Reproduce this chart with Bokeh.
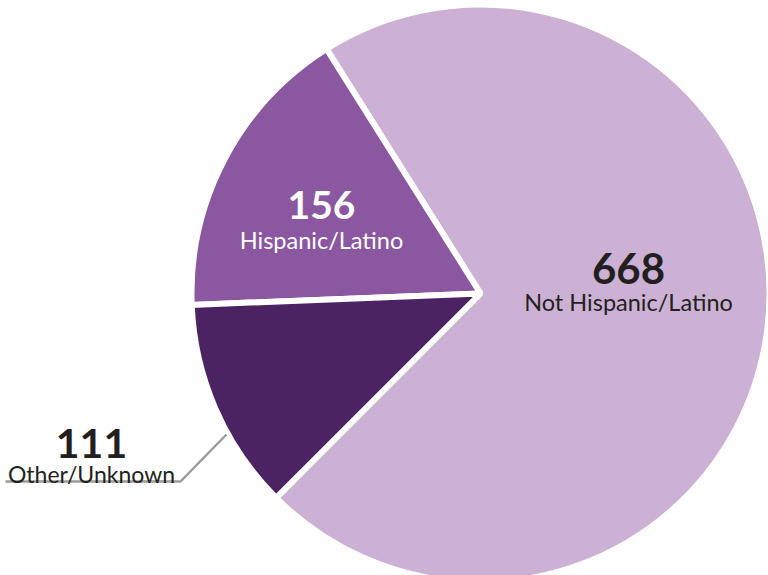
import math
from bokeh.plotting import figure
from bokeh.models import Range1d, ColumnDataSource
from bokeh.core.properties import value
from bokeh.embed import file_html
from bokeh.resources import INLINE

# ---- data ----
categories = ["Not Hispanic/Latino", "Hispanic/Latino", "Other/Unknown"]
counts = [668, 156, 111]
colors = ["#CDB1D4", "#8B57A1", "#4B2363"]

# ---- layout (image pixel coords: x right, y down) ----
W, H = 768, 575
def Y(img_y):
    return H - img_y

cx, cy, r = 480, 293, 289
start_deg = 225.0

total = sum(counts)
starts, ends = [], []
a = math.radians(start_deg)
for c in counts:
    s = a
    e = a + 2 * math.pi * c / total
    starts.append(s)
    ends.append(e)
    a = e

src = ColumnDataSource(dict(cat=categories, val=counts, color=colors,
                            start=starts, end=ends))

p = figure(width=W, height=H, output_backend="svg", toolbar_location=None,
           x_range=Range1d(0, W), y_range=Range1d(0, H),
           min_border=0, outline_line_color=None)
p.axis.visible = False
p.grid.visible = False
p.background_fill_color = "white"
p.border_fill_color = "white"

p.wedge(x=cx, y=Y(cy), radius=r, start_angle="start", end_angle="end",
        fill_color="color", line_color="white", line_width=6, source=src)

# leader line for Other/Unknown
p.line(x=[5, 180, 226], y=[Y(481), Y(481), Y(434)], line_color="#9B9B9B",
       line_width=2.5)

label_layout = {
    "Not Hispanic/Latino": dict(x=628, num_y=268, num_size="42px", lab_y=301,
                                lab_size="23.5px", color="#231F20"),
    "Hispanic/Latino": dict(x=321, num_y=204, num_size="39px", lab_y=239,
                            lab_size="23.5px", color="#FFFFFF"),
    "Other/Unknown": dict(x=91, num_y=443, num_size="41px", lab_y=473,
                          lab_size="23px", color="#231F20"),
}

for cat, val in zip(categories, counts):
    L = label_layout[cat]
    p.text(x=[L["x"]], y=[Y(L["num_y"])], text=[str(val)],
           text_font=value("Lato"), text_font_style="bold",
           text_font_size=L["num_size"], text_color=L["color"],
           text_align="center", text_baseline="alphabetic")
    p.text(x=[L["x"]], y=[Y(L["lab_y"])], text=[cat],
           text_font=value("Lato"), text_font_size=L["lab_size"],
           text_color=L["color"], text_align="center",
           text_baseline="alphabetic")

open("out.html", "w").write(file_html(p, INLINE))
